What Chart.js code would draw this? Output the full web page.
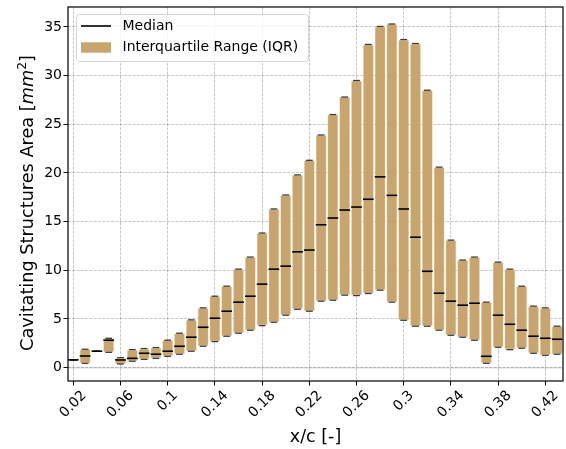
<!DOCTYPE html>
<html><head><meta charset="utf-8">
<script src="https://cdn.jsdelivr.net/npm/chart.js@4.4.1/dist/chart.umd.min.js"></script>
<style>html,body{margin:0;padding:0;background:#fff;overflow:hidden;}#wrap{width:566px;height:449px;}canvas{display:block;}</style>
</head><body><div id="wrap"><canvas id="c" width="566" height="449"></canvas></div>
<script>
// ---- data ----
const xPositions = [0.02,0.03,0.04,0.05,0.06,0.07,0.08,0.09,0.10,0.11,0.12,0.13,0.14,0.15,0.16,0.17,0.18,0.19,0.20,0.21,0.22,0.23,0.24,0.25,0.26,0.27,0.28,0.29,0.30,0.31,0.32,0.33,0.34,0.35,0.36,0.37,0.38,0.39,0.40,0.41,0.42,0.43];
const q1Values = [0.8,0.45,1.69,1.58,0.38,0.66,0.86,0.96,1.17,1.38,1.69,2.2,2.68,3.23,3.54,3.85,4.32,4.67,5.39,6.0,5.8,6.83,6.93,7.45,7.41,7.62,7.96,6.73,4.87,4.26,4.26,3.85,3.33,3.13,2.82,0.45,2.1,1.85,2.0,1.48,1.27,1.38];
const medianValues = [0.8,1.2,1.69,2.82,0.79,0.96,1.48,1.38,1.69,2.2,3.13,4.15,5.08,5.8,6.73,7.34,8.58,10.12,10.43,11.9,12.08,14.68,15.37,16.19,16.5,17.3,19.6,17.7,16.3,13.4,9.9,7.65,6.83,6.42,6.62,1.17,5.39,4.46,3.85,3.23,3.02,2.92];
const q3Values = [0.8,1.89,1.69,3.02,1.03,1.85,1.96,2.06,2.82,3.54,4.91,6.14,7.34,8.37,10.12,11.36,13.83,16.3,17.74,19.8,21.3,23.9,26.0,27.8,29.5,33.2,35.05,35.3,33.7,33.3,28.5,20.6,13.1,11.05,11.36,6.73,10.84,10.12,8.37,6.32,6.14,4.26];
const xTickValues = [0.02,0.06,0.10,0.14,0.18,0.22,0.26,0.30,0.34,0.38,0.42];
const yTickValues = [0,5,10,15,20,25,30,35];
const xAxisTitle = 'x/c [-]';
const yAxisTitle = ['Cavitating Structures Area [', 'mm', '2', ']'];
const legendLabels = ['Median', 'Interquartile Range (IQR)'];

const FAM = "'DejaVu Sans', sans-serif";
const TAN = '#c8a46e';
Chart.defaults.font.family = FAM;

const iqrData = xPositions.map((x, i) => ({x: x, y: [q1Values[i], q3Values[i]]}));
const medData = xPositions.map((x, i) => ({x: x, y: medianValues[i]}));
const capData = xPositions.flatMap((x, i) => [{x: x, y: q1Values[i]}, {x: x, y: q3Values[i]}]);
const fmt = v => String(parseFloat(v.toFixed(2)));

const custom = {
  id: 'custom',
  beforeDatasetsDraw(chart) {
    const {ctx, chartArea: a, scales: {y}} = chart;
    const py = y.getPixelForValue(0);
    ctx.save();
    ctx.strokeStyle = 'rgba(0,0,0,0.10)';
    ctx.lineWidth = 2;
    ctx.beginPath(); ctx.moveTo(a.left, py); ctx.lineTo(a.right, py); ctx.stroke();
    ctx.restore();
  },
  afterDraw(chart) {
    const {ctx, chartArea: a, scales: {x}} = chart;
    ctx.save();
    ctx.strokeStyle = '#000'; ctx.lineWidth = 1.2;
    ctx.strokeRect(a.left, a.top, a.right - a.left, a.bottom - a.top);
    ctx.fillStyle = '#000';
    ctx.font = '14px ' + FAM;
    xTickValues.forEach(v => {
      const px = x.getPixelForValue(v);
      const t = fmt(v);
      const w = ctx.measureText(t).width;
      const cy = a.bottom + 6.5 + (w + 16.3) * 0.35355;
      ctx.save();
      ctx.translate(px, cy); ctx.rotate(-Math.PI / 4);
      ctx.textAlign = 'center'; ctx.textBaseline = 'middle';
      ctx.fillText(t, 0, 0);
      ctx.restore();
    });
    ctx.font = '17.5px ' + FAM;
    ctx.textAlign = 'center'; ctx.textBaseline = 'alphabetic';
    ctx.fillText(xAxisTitle, (a.left + a.right) / 2, 442);
    const parts = [
      {t: yAxisTitle[0], f: '17.7px ' + FAM, dy: 0},
      {t: yAxisTitle[1], f: 'italic 17.7px ' + FAM, dy: 0},
      {t: yAxisTitle[2], f: '12.4px ' + FAM, dy: -7.5},
      {t: yAxisTitle[3], f: '17.7px ' + FAM, dy: 0}
    ];
    let total = 0;
    parts.forEach(p => { ctx.font = p.f; p.w = ctx.measureText(p.t).width; total += p.w; });
    ctx.save();
    ctx.translate(33.3, 203);
    ctx.rotate(-Math.PI / 2);
    ctx.textAlign = 'left'; ctx.textBaseline = 'alphabetic';
    let cx = -total / 2;
    parts.forEach(p => { ctx.font = p.f; ctx.fillText(p.t, cx, p.dy); cx += p.w; });
    ctx.restore();
    ctx.beginPath();
    ctx.roundRect(76.5, 14.5, 232, 47, 3);
    ctx.fillStyle = 'rgba(255,255,255,0.8)'; ctx.fill();
    ctx.strokeStyle = '#d6d6d6'; ctx.lineWidth = 1; ctx.stroke();
    ctx.strokeStyle = '#000'; ctx.lineWidth = 1.6;
    ctx.beginPath(); ctx.moveTo(81, 26); ctx.lineTo(111, 26); ctx.stroke();
    ctx.fillStyle = TAN; ctx.fillRect(81, 42.3, 30, 10.4);
    ctx.fillStyle = '#000'; ctx.font = '14px ' + FAM;
    ctx.textAlign = 'left'; ctx.textBaseline = 'middle';
    ctx.fillText(legendLabels[0], 122.5, 26.5);
    ctx.fillText(legendLabels[1], 122.5, 47.5);
    ctx.restore();
  }
};

const gridCommon = {color: 'rgba(0,0,0,0.28)', lineWidth: 0.8, drawTicks: true, tickLength: 4.5, tickColor: '#000', tickWidth: 1, tickBorderDash: []};

new Chart(document.getElementById('c'), {
  type: 'bar',
  data: {datasets: [
    {type: 'scatter', label: legendLabels[0], data: medData, pointStyle: 'line', pointRadius: 5.35, pointHoverRadius: 5.35, borderColor: '#000', pointBorderWidth: 1.6, order: 0},
    {type: 'scatter', label: 'caps', data: capData, pointStyle: 'line', pointRadius: 3.4, pointHoverRadius: 3.4, borderColor: '#3a3a3a', pointBorderWidth: 1.3, order: 1},
    {type: 'bar', label: legendLabels[1], data: iqrData, backgroundColor: TAN, borderColor: '#f3e5cf', borderWidth: 0.8, borderSkipped: false, barPercentage: 0.95, categoryPercentage: 1, order: 2}
  ]},
  options: {
    responsive: false, animation: false, devicePixelRatio: 1, events: [],
    layout: {autoPadding: false, padding: {left: 0, right: 3, top: 7, bottom: 0}},
    plugins: {legend: {display: false}, tooltip: {enabled: false}},
    scales: {
      x: {type: 'linear', min: 0.0155, max: 0.435, offset: false,
          grid: Object.assign({offset: false}, gridCommon),
          border: {display: false, dash: [3, 1.3]},
          ticks: {display: false},
          afterBuildTicks: s => { s.ticks = xTickValues.map(v => ({value: v})); },
          afterFit: s => { s.height = 68; s.paddingLeft = 0; s.paddingRight = 0; s.paddingTop = 0; s.paddingBottom = 0; }},
      y: {type: 'linear', min: -1.37, max: 37.05,
          grid: gridCommon,
          border: {display: false, dash: [3, 1.3]},
          ticks: {font: {size: 14}, color: '#000', padding: 1.5, callback: v => String(v)},
          afterBuildTicks: s => { s.ticks = yTickValues.map(v => ({value: v})); },
          afterFit: s => { s.width = 68; s.paddingLeft = 0; s.paddingRight = 0; s.paddingTop = 0; s.paddingBottom = 0; }}
    }
  },
  plugins: [custom]
});
</script></body></html>
